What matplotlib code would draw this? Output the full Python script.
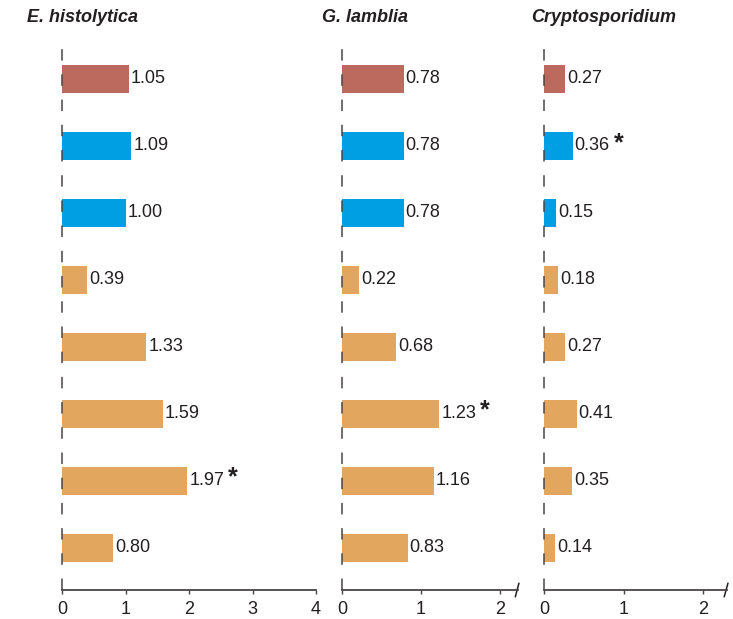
import matplotlib.pyplot as plt
from matplotlib.lines import Line2D

plt.rcParams['font.family'] = ['Liberation Sans', 'DejaVu Sans']

# Fold-change per group, listed top to bottom
titles = ['E. histolytica', 'G. lamblia', 'Cryptosporidium']
e_histolytica = [1.05, 1.09, 1.00, 0.39, 1.33, 1.59, 1.97, 0.80]
g_lamblia = [0.78, 0.78, 0.78, 0.22, 0.68, 1.23, 1.16, 0.83]
cryptosporidium = [0.27, 0.36, 0.15, 0.18, 0.27, 0.41, 0.35, 0.14]
# rows flagged as significant (index from top)
signif = [[6], [5], [1]]
xticks = [[0, 1, 2, 3, 4], [0, 1, 2], [0, 1, 2]]
xmax = [4.0, 2.23, 2.3]
broken = [False, True, True]

bar_colors = ['#BC6A5E', '#009FE3', '#009FE3'] + ['#E2A65E'] * 5
axis_color = '#4A4546'
text_color = '#231F20'

W, H = 733, 619
fig = plt.figure(figsize=(W / 100, H / 100), dpi=100)

# panel placement in pixels: x of zero, x of right end
px_left = [62, 342, 544]
px_right = [316, 518, 727]
y_bottom, y_top = 590, 40
title_x = [27, 322, 531]

series = [e_histolytica, g_lamblia, cryptosporidium]
n = len(e_histolytica)
stars = []
for k, vals in enumerate(series):
    ax = fig.add_axes([px_left[k] / W, (H - y_bottom) / H,
                       (px_right[k] - px_left[k]) / W, (y_bottom - y_top) / H])
    ypos = list(range(n - 1, -1, -1))
    ax.barh(ypos, vals, height=0.41, color=bar_colors, left=0)
    ax.set_xlim(0, xmax[k])
    ax.set_ylim(-0.63, 7.58)
    for s in ['top', 'right', 'left']:
        ax.spines[s].set_visible(False)
    ax.spines['bottom'].set_color(axis_color)
    ax.spines['bottom'].set_linewidth(1.3)
    ax.set_yticks([])
    ax.set_xticks(xticks[k])
    ax.tick_params(axis='x', direction='out', length=3, width=1, color=axis_color,
                   labelsize=13, labelcolor=text_color, pad=5)

    # dashed baseline at zero
    ax.add_line(Line2D([0, 0], [-0.63, 7.58], color=axis_color, lw=1.1,
                       linestyle=(0, (7.5, 9)), clip_on=False))

    for i, v in enumerate(vals):
        t = ax.annotate(f'{v:.2f}', xy=(v, ypos[i]), xytext=(1.5, 0),
                        textcoords='offset points', va='center', ha='left',
                        fontsize=13, color=text_color)
        if i in signif[k]:
            stars.append((t, ax))

    if broken[k]:
        ax.plot([0.985, 1.005], [-0.012, 0.012], transform=ax.transAxes,
                color=text_color, lw=1.1, clip_on=False)

    fig.text(title_x[k] / W, (H - 18) / H, titles[k], ha='left', va='center',
             fontsize=13, fontweight='bold', fontstyle='italic', color=text_color)

# asterisks go right after the value label they mark
fig.canvas.draw()
renderer = fig.canvas.get_renderer()
for t, ax in stars:
    bb = t.get_window_extent(renderer)
    x_fig = (bb.x1 + 4) / W
    y_fig = (bb.y0 + bb.y1) / 2 / H
    fig.text(x_fig, y_fig + 3 / H, '*', ha='left', va='center', fontsize=18,
             fontweight='bold', color=text_color)

fig.savefig('out.png', dpi=100)
